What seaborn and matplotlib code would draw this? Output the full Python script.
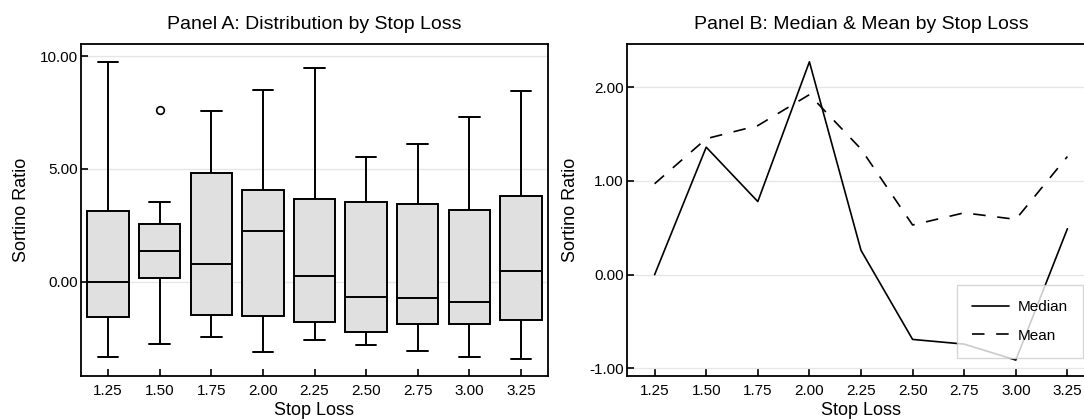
import pandas as pd
import matplotlib
matplotlib.use("Agg")
import matplotlib.pyplot as plt
import seaborn as sns

# values
stop_loss = ['1.25', '1.50', '1.75', '2.00', '2.25', '2.50', '2.75', '3.00', '3.25']
whisker_low = [-3.34, -2.76, -2.47, -3.12, -2.59, -2.79, -3.09, -3.34, -3.43]
q1 = [-1.55, 0.15, -1.48, -1.52, -1.80, -2.22, -1.86, -1.89, -1.70]
median = [0.00, 1.36, 0.78, 2.27, 0.26, -0.69, -0.74, -0.91, 0.49]
q3 = [3.15, 2.56, 4.81, 4.07, 3.67, 3.53, 3.43, 3.19, 3.81]
whisker_high = [9.76, 3.55, 7.58, 8.50, 9.48, 5.52, 6.11, 7.32, 8.46]
outlier_x = ['1.50']
outlier_y = [7.61]
mean = [0.97, 1.45, 1.59, 1.92, 1.34, 0.53, 0.66, 0.59, 1.26]

# five-number summary per stop loss -> long table for the boxplot
rows = []
for i, sl in enumerate(stop_loss):
    for v in (whisker_low[i], q1[i], median[i], q3[i], whisker_high[i]):
        rows.append({'Stop Loss': sl, 'Sortino Ratio': v})
df = pd.DataFrame(rows)

sns.set_theme(style="whitegrid")
plt.rcParams['font.family'] = ['Liberation Sans', 'DejaVu Sans']
plt.rcParams.update({
    'axes.edgecolor': 'black',
    'axes.linewidth': 1.3,
    'grid.color': '#e6e6e6',
    'grid.linewidth': 1.0,
    'xtick.direction': 'in',
    'ytick.direction': 'in',
    'xtick.major.size': 5,
    'ytick.major.size': 5,
    'xtick.major.width': 1.2,
    'ytick.major.width': 1.2,
    'xtick.major.pad': 5.5,
    'ytick.major.pad': 2.5,
    'xtick.bottom': True,
    'ytick.left': True,
    'xtick.color': 'black',
    'ytick.color': 'black',
    'text.color': 'black',
    'axes.labelcolor': 'black',
})

fig = plt.figure(figsize=(10.84, 4.2), dpi=100)
W, H = 1084, 420
ax1 = fig.add_axes([81 / W, (H - 376) / H, (548 - 81) / W, (376 - 44) / H])
ax2 = fig.add_axes([627 / W, (H - 376) / H, (1095 - 627) / W, (376 - 44) / H])

# Panel A
sns.boxplot(data=df, x='Stop Loss', y='Sortino Ratio', order=stop_loss, ax=ax1,
            color='#e0e0e0', linecolor='black', linewidth=1.4, width=0.8,
            fill=True, saturation=1)
sns.stripplot(x=outlier_x, y=outlier_y, order=stop_loss, ax=ax1, jitter=False,
              color='white', edgecolor='black', linewidth=1.2, size=5.5, zorder=5)
ax1.set_xlim(-0.52, 8.52)
ax1.set_ylim(-4.18, 10.54)
ax1.set_yticks([0, 5, 10])
ax1.set_yticklabels([f"{t:.2f}" for t in [0, 5, 10]])
ax1.set_title("Panel A: Distribution by Stop Loss", fontsize=14, pad=11)
ax1.set_xlabel("Stop Loss", fontsize=13, labelpad=3)
ax1.set_ylabel("Sortino Ratio", fontsize=13, labelpad=7)
ax1.grid(axis='x', visible=False)

# Panel B
sns.lineplot(x=stop_loss, y=median, ax=ax2, color='black', linewidth=1.2,
             label='Median', sort=False)
sns.lineplot(x=stop_loss, y=mean, ax=ax2, color='black', linewidth=1.2,
             linestyle=(0, (7.5, 7)), label='Mean', sort=False)
ax2.set_xlim(-0.535, 8.535)
ax2.set_ylim(-1.08, 2.46)
ax2.set_yticks([-1, 0, 1, 2])
ax2.set_yticklabels([f"{t:.2f}" for t in [-1, 0, 1, 2]])
ax2.set_title("Panel B: Median & Mean by Stop Loss", fontsize=14, pad=11)
ax2.set_xlabel("Stop Loss", fontsize=13, labelpad=3)
ax2.set_ylabel("Sortino Ratio", fontsize=13, labelpad=7)
ax2.grid(axis='x', visible=False)
ax2.legend(loc='lower right', bbox_to_anchor=(0.975, 0.054), borderaxespad=0,
           frameon=True, fancybox=False, edgecolor='#cccccc', framealpha=0.8,
           handlelength=2.4, handletextpad=0.6,
           fontsize=11, borderpad=1.0, labelspacing=0.95)

for ax in (ax1, ax2):
    ax.tick_params(labelsize=11)

fig.savefig("out.png", dpi=100)
